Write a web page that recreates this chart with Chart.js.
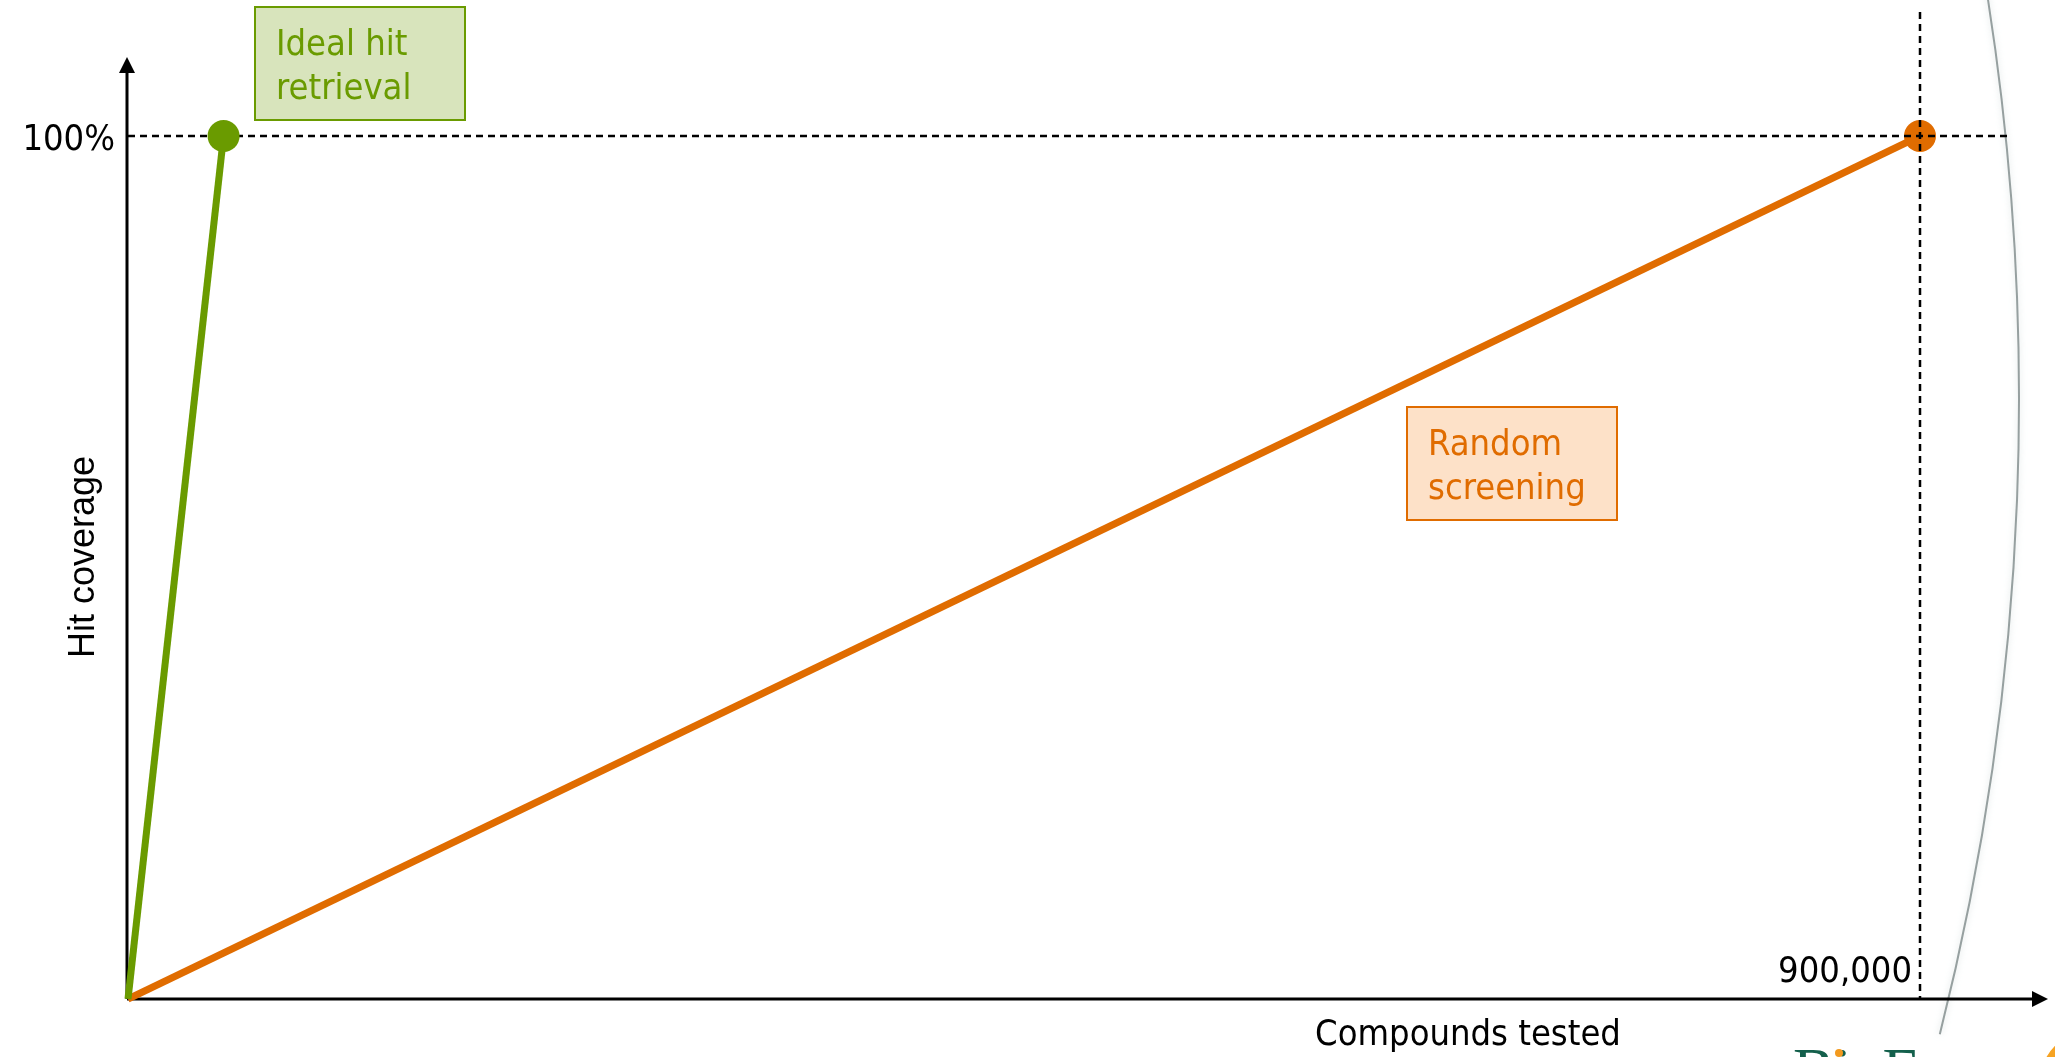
<!DOCTYPE html>
<html>
<head>
<meta charset="utf-8">
<script src="https://cdn.jsdelivr.net/npm/chart.js@4.4.0/dist/chart.umd.min.js"></script>
<style>
  html, body { margin: 0; padding: 0; background: #fff; overflow: hidden; }
  #wrap { width: 2055px; height: 1057px; position: relative; }
</style>
</head>
<body>
<div id="wrap"><canvas id="Chart"></canvas></div>
<script>
// curves: compounds tested vs. hit coverage (%)
var idealX = [0, 48000];
var idealY = [0, 100];
var randomX = [0, 900000];
var randomY = [0, 100];

var yTicks = [100];
var yTickLabels = ['100%'];
var xTicks = [900000];
var xTickLabels = ['900,000'];

var xTitle = 'Compounds tested';
var yTitle = 'Hit coverage';
var idealLabel = ['Ideal hit', 'retrieval'];
var randomLabel = ['Random', 'screening'];

var GREEN = '#6a9b00';
var GREEN_FILL = '#d8e4bc';
var ORANGE = '#e06c00';
var ORANGE_FILL = '#fde1c8';
var FONT = '"DejaVu Sans Condensed", "DejaVu Sans", sans-serif';

function toPoints(xs, ys) {
  return xs.map(function (x, i) { return { x: x, y: ys[i] }; });
}

function labelBox(ctx, x, y, w, h, lines, fill, color) {
  ctx.save();
  ctx.fillStyle = fill;
  ctx.fillRect(x, y, w, h);
  ctx.strokeStyle = color;
  ctx.lineWidth = 2;
  ctx.strokeRect(x, y, w, h);
  ctx.fillStyle = color;
  ctx.font = '36px ' + FONT;
  ctx.textAlign = 'left';
  ctx.textBaseline = 'alphabetic';
  lines.forEach(function (t, i) {
    ctx.fillText(t, x + 21, y + 48 + i * 44);
  });
  ctx.restore();
}

function arrow(ctx, x, y, dir) {
  // dir: 'up' or 'right', tip at (x, y)
  ctx.beginPath();
  if (dir === 'up') {
    ctx.moveTo(x, y);
    ctx.lineTo(x - 8, y + 16);
    ctx.lineTo(x + 8, y + 16);
  } else {
    ctx.moveTo(x, y);
    ctx.lineTo(x - 16, y - 8);
    ctx.lineTo(x - 16, y + 8);
  }
  ctx.closePath();
  ctx.fill();
}

var decor = {
  id: 'decor',
  beforeDatasetsDraw: function (chart) {
    var ctx = chart.ctx;
    var xs = chart.scales.x, ys = chart.scales.y;
    var x0 = xs.getPixelForValue(0);
    var y0 = ys.getPixelForValue(0);

    // decorative slide arc on the right
    ctx.save();
    ctx.strokeStyle = 'rgba(140,150,150,0.9)';
    ctx.lineWidth = 2;
    ctx.shadowColor = 'rgba(190,205,205,0.7)';
    ctx.shadowBlur = 6;
    ctx.beginPath();
    ctx.arc(-569, 399, 2588, -0.17, 0.248);
    ctx.stroke();
    ctx.restore();

    // axes with arrow heads
    ctx.save();
    ctx.strokeStyle = '#000';
    ctx.fillStyle = '#000';
    ctx.lineWidth = 3;
    ctx.beginPath();
    ctx.moveTo(x0 - 1, y0);
    ctx.lineTo(x0 - 1, 66);
    ctx.moveTo(x0 - 1, y0);
    ctx.lineTo(2036, y0);
    ctx.stroke();
    arrow(ctx, x0 - 1, 57, 'up');
    arrow(ctx, 2048, y0, 'right');

    // tick labels
    ctx.font = '36px ' + FONT;
    ctx.textAlign = 'right';
    ctx.textBaseline = 'alphabetic';
    yTicks.forEach(function (v, i) {
      ctx.fillText(yTickLabels[i], x0 - 13, ys.getPixelForValue(v) + 14);
    });
    xTicks.forEach(function (v, i) {
      ctx.fillText(xTickLabels[i], xs.getPixelForValue(v) - 8, y0 - 17);
    });

    // axis titles
    ctx.textAlign = 'center';
    ctx.fillText(xTitle, 1468, 1045);
    ctx.save();
    ctx.translate(94, 557);
    ctx.rotate(-Math.PI / 2);
    ctx.font = '36px "Liberation Sans", Arial, sans-serif';
    ctx.fillText(yTitle, 0, 0);
    ctx.restore();
    ctx.restore();

    // annotation boxes
    labelBox(ctx, 255, 7, 210, 113, idealLabel, GREEN_FILL, GREEN);
    labelBox(ctx, 1407, 407, 210, 113, randomLabel, ORANGE_FILL, ORANGE);

    // logo peeking in at the bottom right corner
    ctx.save();
    ctx.font = '62px "Liberation Serif", "DejaVu Serif", serif';
    ctx.fillStyle = '#14604c';
    ctx.textAlign = 'left';
    ctx.fillText('BioF', 1793, 1090);
    ctx.fillStyle = '#f39a1e';
    ctx.beginPath();
    ctx.arc(1839, 1053, 4, 0, Math.PI * 2);
    ctx.fill();
    ctx.strokeStyle = '#f6a323';
    ctx.lineWidth = 8;
    ctx.beginPath();
    ctx.arc(2095, 1085, 52, Math.PI * 1.02, Math.PI * 1.32);
    ctx.stroke();
    ctx.restore();
  },
  afterDatasetDraw: function (chart, args) {
    // dashed guides go over the random-screening marker, under the ideal one
    if (args.index !== 1) return;
    var ctx = chart.ctx;
    var xs = chart.scales.x, ys = chart.scales.y;
    ctx.save();
    ctx.strokeStyle = '#000';
    ctx.lineWidth = 2.5;
    ctx.setLineDash([7, 5]);
    yTicks.forEach(function (v) {
      var py = ys.getPixelForValue(v);
      ctx.beginPath();
      ctx.moveTo(xs.getPixelForValue(0), py);
      ctx.lineTo(2012, py);
      ctx.stroke();
    });
    xTicks.forEach(function (v) {
      var px = xs.getPixelForValue(v);
      ctx.beginPath();
      ctx.moveTo(px, 12);
      ctx.lineTo(px, ys.getPixelForValue(0));
      ctx.stroke();
    });
    ctx.restore();
  }
};

var chart = new Chart('Chart', {
  type: 'scatter',
  data: {
    datasets: [{
      label: idealLabel.join(' '),
      data: toPoints(idealX, idealY),
      showLine: true,
      borderColor: GREEN,
      borderWidth: 7,
      backgroundColor: GREEN,
      pointBackgroundColor: GREEN,
      pointBorderWidth: 0,
      pointRadius: [0, 16],
      pointHoverRadius: [0, 16],
      clip: false
    }, {
      label: randomLabel.join(' '),
      data: toPoints(randomX, randomY),
      showLine: true,
      borderColor: ORANGE,
      borderWidth: 7,
      backgroundColor: ORANGE,
      pointBackgroundColor: ORANGE,
      pointBorderWidth: 0,
      pointRadius: [0, 16],
      pointHoverRadius: [0, 16],
      clip: false
    }]
  },
  options: {
    responsive: true,
    maintainAspectRatio: false,
    animation: false,
    events: [],
    layout: { padding: { left: 128, right: 135, top: 136, bottom: 58 } },
    scales: {
      x: { type: 'linear', min: 0, max: 900000, display: false },
      y: { type: 'linear', min: 0, max: 100, display: false }
    },
    plugins: {
      legend: { display: false },
      tooltip: { enabled: false }
    }
  },
  plugins: [decor]
});
</script>
</body>
</html>
